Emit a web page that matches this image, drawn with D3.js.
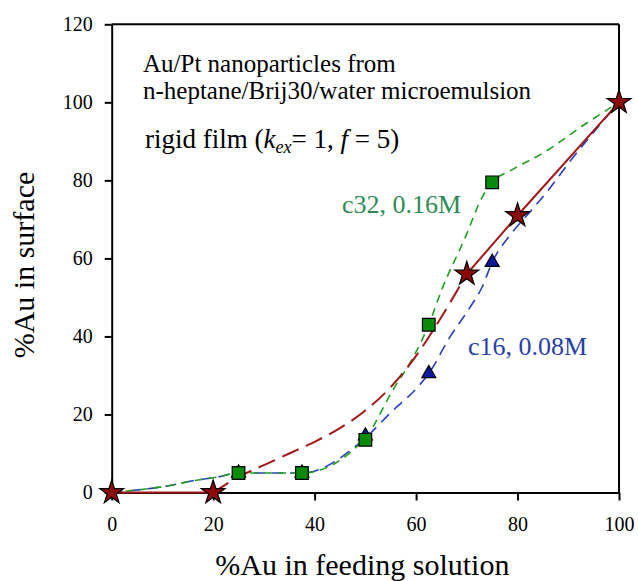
<!DOCTYPE html>
<html>
<head>
<meta charset="utf-8">
<title>Au/Pt nanoparticles</title>
<script src="https://cdn.jsdelivr.net/npm/d3@7"></script>
<style>
    body { margin: 0; background: #fff; }
    svg text { font-family: "Liberation Serif", "DejaVu Serif", "Times New Roman", Times, serif; }
</style>
</head>
<body>
<div id="chart"></div>
<script>
    const width = 638, height = 581;
    const margin = { top: 24.3, right: 19, bottom: 88.5, left: 111.7 };

    // measured points (x = %Au in feeding solution, y = %Au in surface)
    const starPts = [[0, 0], [20, 0], [70, 56], [80, 71], [100, 100]];
    const squarePts = [[25, 5], [37.5, 5], [50, 13.5], [62.5, 43], [75, 79.5]];
    const trianglePts = [[25, 5], [37.5, 5], [50, 14.5], [62.5, 30.5], [75, 59]];

    // curves
    const redSolidA = [[0, 0], [20, 0]];
    const redSolidB = [[70, 56], [80, 71], [100, 100]];
    const redDashed = [[20, 0], [25, 4], [30, 7], [35, 10], [40, 13], [45, 16.5], [50, 21],
        [55, 27], [60, 35], [65, 45], [70, 56]];
    const greenCurve = [[0, 0], [4, 0.5], [11.5, 1.8], [16, 3], [21, 4], [25, 5], [37.5, 5],
        [50, 14], [55.3, 26], [59.4, 34.6], [62.5, 43], [65, 51.8], [69.7, 65.4], [73, 75.6],
        [75, 79.5], [78.6, 82.5], [85, 87], [94, 95], [100, 100]];
    const blueCurve = [[0, 0], [4, 0.5], [11.5, 1.8], [16, 3], [21, 4], [25, 5], [37.5, 5],
        [50, 14], [55, 20.5], [60.3, 27], [62.5, 30.5], [66.6, 39.7], [70.6, 47.4], [73, 52.6],
        [75, 59], [78.8, 66.4], [82.7, 72.3], [86, 77.4], [90, 84.3], [100, 100]];

    const xTicks = [0, 20, 40, 60, 80, 100];
    const yTicks = [0, 20, 40, 60, 80, 100, 120];

    const x = d3.scaleLinear().domain([0, 100]).range([margin.left, width - margin.right]);
    const y = d3.scaleLinear().domain([0, 120]).range([height - margin.bottom, margin.top]);

    const svg = d3.select("#chart").append("svg")
        .attr("width", width)
        .attr("height", height);

    // frame (top and right)
    svg.append("line")
        .attr("x1", x(0)).attr("x2", x(100))
        .attr("y1", y(120)).attr("y2", y(120))
        .attr("stroke", "#000").attr("stroke-width", 2);
    svg.append("line")
        .attr("x1", x(100)).attr("x2", x(100))
        .attr("y1", y(120)).attr("y2", y(0))
        .attr("stroke", "#000").attr("stroke-width", 2);

    const xAxis = svg.append("g")
        .attr("transform", `translate(0,${y(0)})`)
        .call(d3.axisBottom(x).tickValues(xTicks).tickSize(8).tickPadding(16).tickSizeOuter(0));
    const yAxis = svg.append("g")
        .attr("transform", `translate(${x(0)},0)`)
        .call(d3.axisLeft(y).tickValues(yTicks).tickSize(7).tickPadding(12).tickSizeOuter(0));

    [xAxis, yAxis].forEach(g => {
        g.attr("font-family", null);
        g.select(".domain").attr("stroke-width", 2);
        g.selectAll(".tick line").attr("stroke-width", 2);
        g.selectAll(".tick text")
            .attr("font-size", 20)
            .attr("fill", "#000");
    });

    const line = d3.line().x(d => x(d[0])).y(d => y(d[1]));
    const smooth = d3.line().x(d => x(d[0])).y(d => y(d[1])).curve(d3.curveMonotoneX);

    svg.append("path").datum(blueCurve).attr("d", smooth)
        .attr("fill", "none").attr("stroke", "#2a3fc0").attr("stroke-width", 1.6)
        .attr("stroke-dasharray", "11,7");
    svg.append("path").datum(greenCurve).attr("d", smooth)
        .attr("fill", "none").attr("stroke", "#1e9e1e").attr("stroke-width", 1.6)
        .attr("stroke-dasharray", "8,6");
    svg.append("path").datum(redDashed).attr("d", smooth)
        .attr("fill", "none").attr("stroke", "#a01818").attr("stroke-width", 2)
        .attr("stroke-dasharray", "18,8");
    [redSolidA, redSolidB].forEach(seg => {
        svg.append("path").datum(seg).attr("d", line)
            .attr("fill", "none").attr("stroke", "#a01818").attr("stroke-width", 2);
    });

    svg.append("g").selectAll("path")
        .data(trianglePts).join("path")
        .attr("transform", d => `translate(${x(d[0])},${y(d[1])})`)
        .attr("d", d3.symbol().type(d3.symbolTriangle).size(85))
        .attr("fill", "#0a1a9a").attr("stroke", "#000").attr("stroke-width", 1.2);

    svg.append("g").selectAll("path")
        .data(squarePts).join("path")
        .attr("transform", d => `translate(${x(d[0])},${y(d[1])})`)
        .attr("d", d3.symbol().type(d3.symbolSquare).size(160))
        .attr("fill", "#0a8a0a").attr("stroke", "#000").attr("stroke-width", 1.2);

    svg.append("g").selectAll("path")
        .data(starPts).join("path")
        .attr("transform", d => `translate(${x(d[0])},${y(d[1])})`)
        .attr("d", d3.symbol().type(d3.symbolStar).size(175))
        .attr("fill", "#8b0a0a").attr("stroke", "#000").attr("stroke-width", 1.2);

    // annotations
    const note = svg.append("g").attr("font-size", 25).attr("fill", "#000");
    note.append("text").attr("x", 143).attr("y", 72).text("Au/Pt nanoparticles from");
    note.append("text").attr("x", 143).attr("y", 99).text("n-heptane/Brij30/water microemulsion");
    const rigid = note.append("text").attr("x", 145).attr("y", 148).attr("font-size", 27);
    rigid.append("tspan").text("rigid film (");
    rigid.append("tspan").attr("font-style", "italic").text("k");
    rigid.append("tspan").attr("font-style", "italic").attr("font-size", 18).attr("dy", 5).text("ex");
    rigid.append("tspan").attr("dy", -5).text("= 1, ");
    rigid.append("tspan").attr("font-style", "italic").text("f");
    rigid.append("tspan").text(" = 5)");

    svg.append("text").attr("x", 342).attr("y", 213)
        .attr("font-size", 26).attr("fill", "#2e8b57").text("c32, 0.16M");
    svg.append("text").attr("x", 468).attr("y", 355)
        .attr("font-size", 26).attr("fill", "#2a40a8").text("c16, 0.08M");

    // axis titles
    svg.append("text")
        .attr("x", (x(0) + x(100)) / 2 - 3).attr("y", 575)
        .attr("text-anchor", "middle").attr("font-size", 30)
        .text("%Au in feeding solution");
    svg.append("text")
        .attr("transform", `translate(34,265) rotate(-90)`)
        .attr("text-anchor", "middle").attr("font-size", 30)
        .text("%Au in surface");
</script>
</body>
</html>
